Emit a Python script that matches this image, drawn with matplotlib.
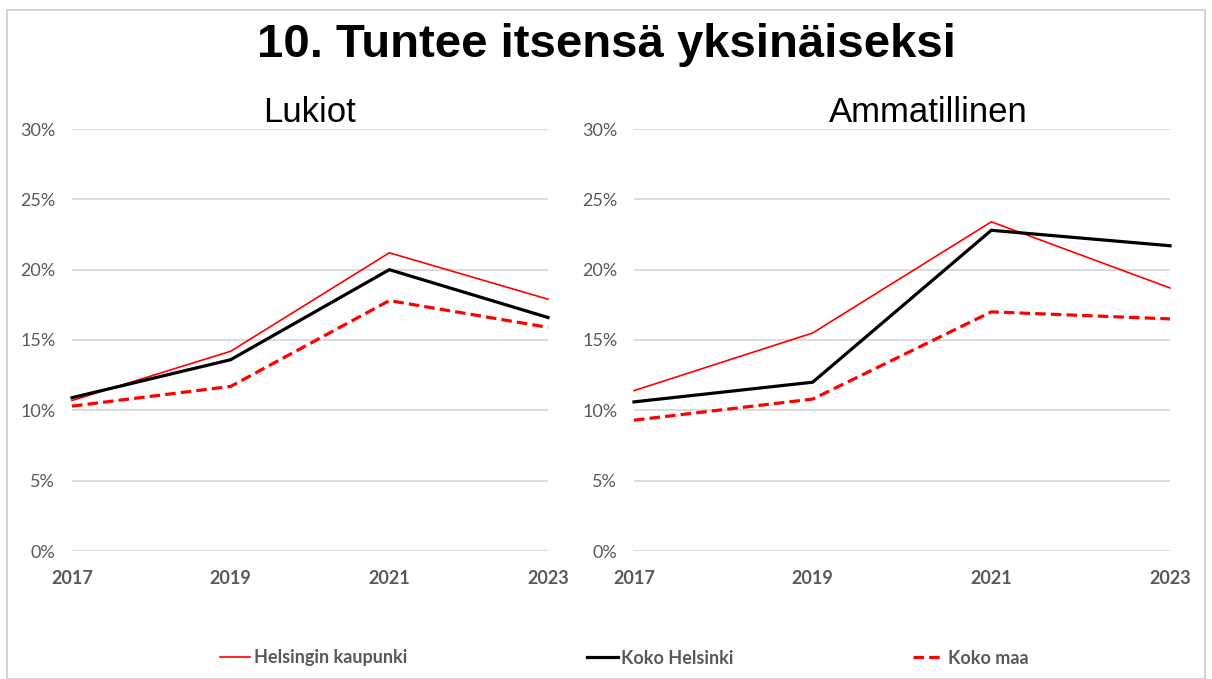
import matplotlib
matplotlib.use("Agg")
import matplotlib.pyplot as plt
from matplotlib.lines import Line2D
from matplotlib.patches import Rectangle
from matplotlib.ticker import PercentFormatter

years = [2017, 2019, 2021, 2023]
series_names = ["Helsingin kaupunki", "Koko Helsinki", "Koko maa"]

lukiot_kaupunki = [0.107, 0.142, 0.212, 0.179]
lukiot_koko_helsinki = [0.109, 0.136, 0.200, 0.166]
lukiot_koko_maa = [0.103, 0.117, 0.178, 0.159]

amm_kaupunki = [0.114, 0.155, 0.234, 0.187]
amm_koko_helsinki = [0.106, 0.120, 0.228, 0.217]
amm_koko_maa = [0.093, 0.108, 0.170, 0.165]

title = "10. Tuntee itsensä yksinäiseksi"
panel_titles = ["Lukiot", "Ammatillinen"]
y_ticks = [0, 0.05, 0.10, 0.15, 0.20, 0.25, 0.30]

RED = "#FF0000"
GRAY = "#595959"
styles = [
    dict(color=RED, lw=1.2, ls="-"),
    dict(color="black", lw=2.3, ls="-"),
    dict(color=RED, lw=2.3, ls=(0, (3.3, 1.6))),
]

fig = plt.figure(figsize=(12.12, 6.79), dpi=100)
fig.patches.append(Rectangle((7/1212, 0.0), 1198/1212, 1 - 10/679, transform=fig.transFigure,
                             fill=False, edgecolor="#d4d4d4", lw=1.5))

fig.text(0.5, 1 - 45/679, title, ha="center", va="center", fontsize=34,
         fontweight="bold", family="Liberation Sans")

axes_pos = [[72/1212, 1 - 551/679, 476/1212, 422/679],
            [634/1212, 1 - 551/679, 536/1212, 422/679]]
data = [[lukiot_kaupunki, lukiot_koko_helsinki, lukiot_koko_maa],
        [amm_kaupunki, amm_koko_helsinki, amm_koko_maa]]
title_x = [310, 928]

for i, pos in enumerate(axes_pos):
    ax = fig.add_axes(pos)
    for vals, st in zip(data[i], styles):
        ax.plot(years, vals, solid_joinstyle="miter", dash_joinstyle="miter",
                clip_on=False, **st)
    ax.set_xlim(2017, 2023)
    ax.set_ylim(0, 0.30)
    ax.set_xticks(years)
    ax.set_yticks(y_ticks)
    ax.yaxis.set_major_formatter(PercentFormatter(1.0, decimals=0))
    ax.grid(axis="y", color="#d9d9d9", lw=1.3)
    ax.set_axisbelow(True)
    for s in ax.spines.values():
        s.set_visible(False)
    ax.tick_params(length=0)
    ax.tick_params(axis="y", pad=12, labelsize=13, labelcolor=GRAY)
    ax.tick_params(axis="x", pad=14, labelsize=13, labelcolor=GRAY)
    for lab in ax.get_xticklabels():
        lab.set_fontweight("bold")
        lab.set_family("Lato")
    for lab in ax.get_yticklabels():
        lab.set_family("Lato")
    fig.text(title_x[i]/1212, 1 - 113/679, panel_titles[i], ha="center", va="center",
             fontsize=25, family="Liberation Sans")

handles = [Line2D([], [], **st) for st in styles]
leg = fig.legend(handles, series_names, loc="center", bbox_to_anchor=(624/1212, 1 - 658/679),
                 ncol=3, frameon=False, handlelength=1.7, handletextpad=0.2,
                 columnspacing=9.95, prop=dict(family="Lato", weight="bold", size=13))
for t in leg.get_texts():
    t.set_color(GRAY)

fig.savefig("out.png", dpi=100)
